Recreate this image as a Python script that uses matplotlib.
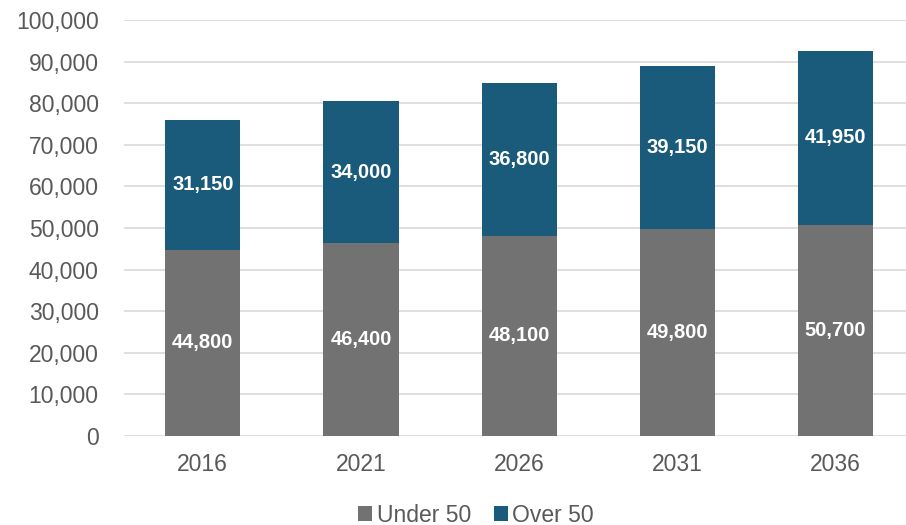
import matplotlib.pyplot as plt
import numpy as np
from matplotlib.ticker import FuncFormatter

plt.rcParams['font.family'] = ['Liberation Sans', 'DejaVu Sans']

years = ['2016', '2021', '2026', '2031', '2036']
under_50 = [44800, 46400, 48100, 49800, 50700]
over_50 = [31150, 34000, 36800, 39150, 41950]

GREY = '#727272'
BLUE = '#1a5b7b'
TEXT = '#595959'

fig = plt.figure(figsize=(9.06, 5.25), dpi=100)
# right edge runs a little past the figure, like the reference
ax = fig.add_axes([0.1365, 0.1695, 0.873, 0.7925])

x = np.arange(len(years))
w = 0.475
b1 = ax.bar(x, under_50, width=w, color=GREY, label='Under 50', zorder=3)
b2 = ax.bar(x, over_50, width=w, bottom=under_50, color=BLUE, label='Over 50', zorder=3)

for i in range(len(years)):
    ax.text(x[i], under_50[i] / 2, f'{under_50[i]:,}', ha='center', va='center',
            color='white', fontsize=14.5, fontweight='bold', zorder=4)
    ax.text(x[i], under_50[i] + over_50[i] / 2, f'{over_50[i]:,}', ha='center',
            va='center', color='white', fontsize=14.5, fontweight='bold', zorder=4)

ax.set_xlim(-0.5, len(years) - 0.5)
ax.set_ylim(0, 100000)
ax.set_yticks(np.arange(0, 100001, 10000))
ax.yaxis.set_major_formatter(FuncFormatter(lambda v, p: f'{int(v):,}'))
ax.set_xticks(x)
ax.set_xticklabels(years)
ax.grid(axis='y', color='#d9d9d9', linewidth=1.2, zorder=0)
for s in ax.spines.values():
    s.set_visible(False)
ax.tick_params(axis='both', length=0, labelsize=16.5, colors=TEXT)
ax.tick_params(axis='y', pad=18)
ax.tick_params(axis='x', pad=12)

fig.legend(handles=[b1, b2], loc='center', bbox_to_anchor=(476 / 906, 1 - 515 / 525),
           ncol=2, frameon=False, fontsize=16.5, handlelength=0.6, handleheight=0.6,
           handletextpad=0.2, columnspacing=1.0, labelcolor=TEXT)

fig.savefig('out.png', dpi=100)
